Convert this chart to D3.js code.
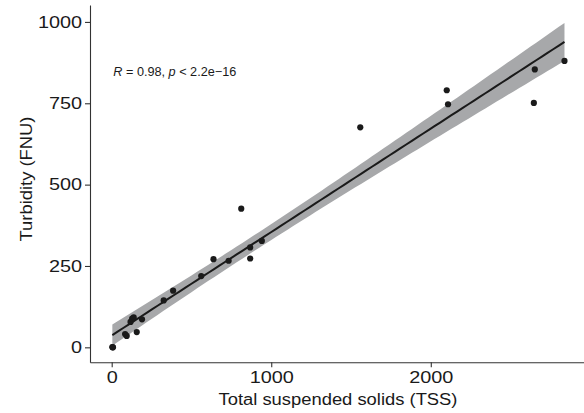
<!DOCTYPE html>
<html><head><meta charset="utf-8">
<script src="https://cdn.jsdelivr.net/npm/d3@7"></script>
<style>
body{margin:0;background:#fff}
svg{display:block}
text{font-family:"Liberation Sans",Arial,Helvetica,sans-serif;fill:#1a1a1a}
</style>
</head><body>
<svg id="chart" width="584" height="413"></svg>
<script>
// ---- data (the dot at the origin hides overlapping samples) ----
const tss       = [6, 4, 8, 84, 94, 157, 118, 128, 138, 190, 326, 385, 561, 638, 733, 812, 868, 868, 941, 1558, 2100, 2108, 2646, 2652, 2838];
const turbidity = [0, 1, 0, 41, 35, 47, 78, 88, 92, 86, 144, 174, 219, 271, 266, 426, 307, 273, 327, 676, 790, 747, 751, 854, 880];
const xTicks = [0, 1000, 2000];
const yTicks = [0, 250, 500, 750, 1000];
const xTitle = "Total suspended solids (TSS)";
const yTitle = "Turbidity (FNU)";
const statLabel = [["R", true], [" = 0.98, ", false], ["p", true], [" < 2.2e\u221216", false]];
const xLimits = [-136, 2976];
const yLimits = [-46, 1052];
const tCrit = 2.069; // t(0.975, df = n-2)

// ---- layout ----
const svg = d3.select("#chart");
const x = d3.scaleLinear().domain(xLimits).range([90, 586.5]);
const y = d3.scaleLinear().domain(yLimits).range([362.3, 5]);

// ---- linear fit with 95% confidence band ----
const n = tss.length;
const mx = d3.mean(tss), my = d3.mean(turbidity);
const sxx = d3.sum(tss, v => (v - mx) ** 2);
const sxy = d3.sum(tss.map((v, i) => (v - mx) * (turbidity[i] - my)));
const slope = sxy / sxx, intercept = my - slope * mx;
const sse = d3.sum(tss.map((v, i) => (turbidity[i] - (intercept + slope * v)) ** 2));
const s = Math.sqrt(sse / (n - 2));
const [x0, x1] = d3.extent(tss);
const fit = d3.range(0, 81).map(k => {
  const xv = x0 + (x1 - x0) * k / 80;
  const yv = intercept + slope * xv;
  const se = s * Math.sqrt(1 / n + (xv - mx) ** 2 / sxx);
  return {x: xv, y: yv, lo: yv - tCrit * se, hi: yv + tCrit * se};
});

svg.append("path").datum(fit)
  .attr("fill", "#a7a8aa")
  .attr("d", d3.area().x(d => x(d.x)).y0(d => y(d.lo)).y1(d => y(d.hi)));
svg.append("path").datum(fit)
  .attr("fill", "none").attr("stroke", "#1a1a1a").attr("stroke-width", 2)
  .attr("d", d3.line().x(d => x(d.x)).y(d => y(d.y)));

// ---- points ----
svg.append("g").selectAll("circle").data(tss.map((v, i) => [v, turbidity[i]]))
  .join("circle")
  .attr("cx", d => x(d[0])).attr("cy", d => y(d[1])).attr("r", 3.1)
  .attr("fill", "#1a1a1a");

// ---- axes ----
function stretch(sel, f) {
  sel.each(function () {
    const w = this.getComputedTextLength();
    d3.select(this).attr("textLength", w * f).attr("lengthAdjust", "spacingAndGlyphs");
  });
}
const fmt = d3.format("d");
const gx = svg.append("g").attr("transform", "translate(0,362.3)")
  .call(d3.axisBottom(x).tickValues(xTicks).tickFormat(fmt).tickSize(5).tickPadding(4).tickSizeOuter(0));
const gy = svg.append("g").attr("transform", "translate(90,0)")
  .call(d3.axisLeft(y).tickValues(yTicks).tickFormat(fmt).tickSize(5).tickPadding(3).tickSizeOuter(0));
[gx, gy].forEach(g => {
  g.select(".domain").attr("stroke", "#333").attr("stroke-width", 1.1);
  g.selectAll(".tick line").attr("stroke", "#333").attr("stroke-width", 1.1);
  g.selectAll(".tick text").attr("font-size", 16).attr("fill", "#1a1a1a")
    .style("font-family", '"Liberation Sans",Arial,sans-serif');
  stretch(g.selectAll(".tick text"), 1.24);
});

// ---- titles ----
const xt = svg.append("text").attr("x", 338).attr("y", 405)
  .attr("text-anchor", "middle").attr("font-size", 16).text(xTitle);
xt.attr("textLength", 239).attr("lengthAdjust", "spacingAndGlyphs");
const yt = svg.append("text").attr("transform", "translate(31.5,179) rotate(-90)")
  .attr("text-anchor", "middle").attr("font-size", 16).text(yTitle);
yt.attr("textLength", 125).attr("lengthAdjust", "spacingAndGlyphs");

// ---- statistic label ----
const st = svg.append("text").attr("x", 113.3).attr("y", 75.5).attr("font-size", 12.5);
statLabel.forEach(([t, it]) => st.append("tspan").attr("font-style", it ? "italic" : null).text(t));
st.attr("textLength", 123).attr("lengthAdjust", "spacingAndGlyphs");
</script>
</body></html>
